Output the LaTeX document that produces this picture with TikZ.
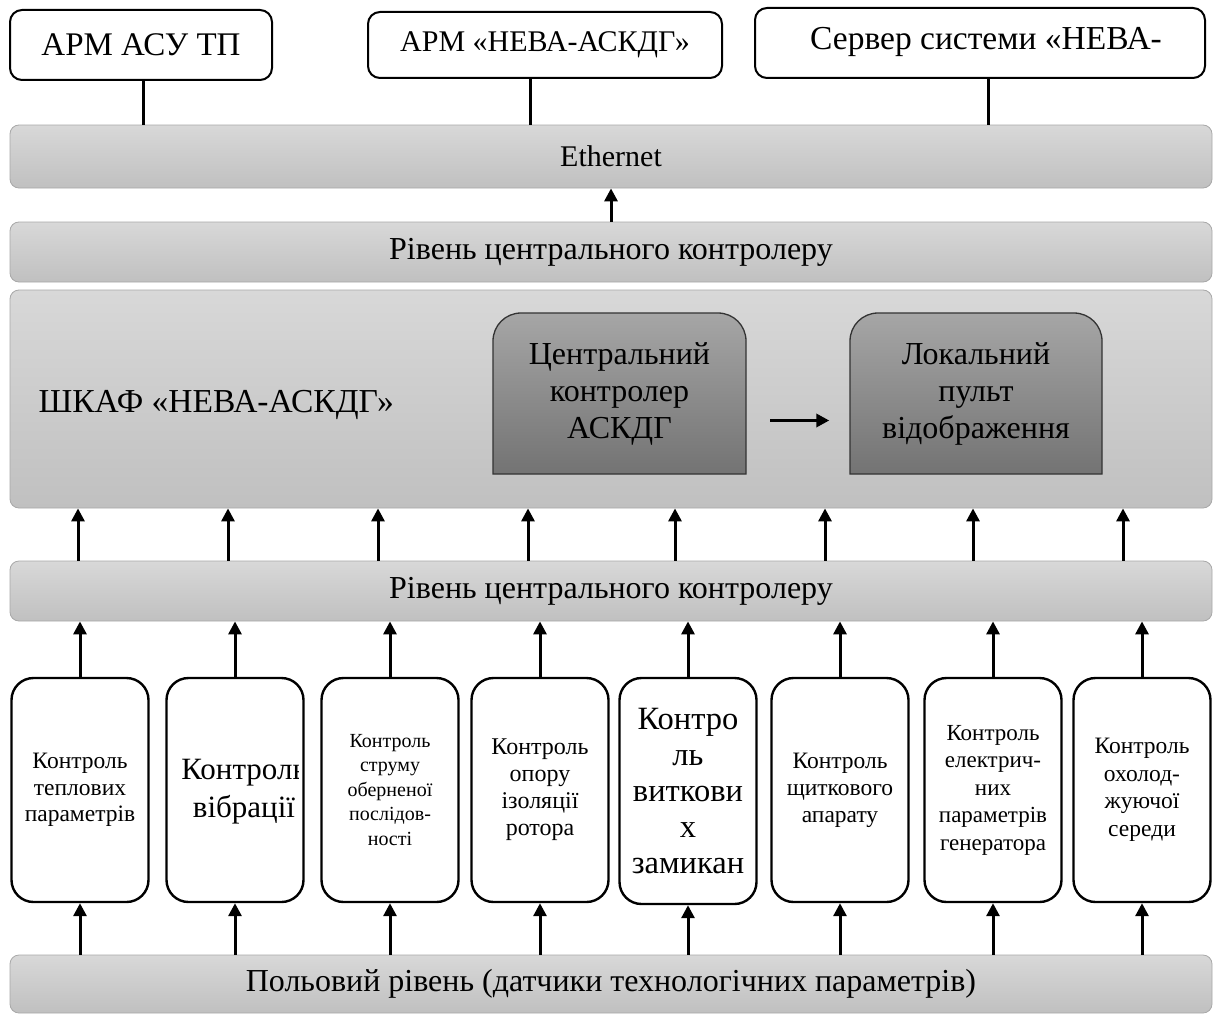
\documentclass[tikz,border=0pt]{standalone}
\usepackage{fontspec}
\setmainfont{Liberation Serif}
\usetikzlibrary{arrows.meta,calc}
\definecolor{bartop}{HTML}{D8D8D8}
\definecolor{barbot}{HTML}{C0C0C0}
\definecolor{barline}{HTML}{A8A8A8}
\definecolor{darktop}{HTML}{A6A6A6}
\definecolor{darkbot}{HTML}{737373}
\definecolor{darkline}{HTML}{333333}
\newcommand{\fsz}[2]{\fontsize{#1pt}{#2pt}\selectfont}
\tikzset{
 bar/.style={rectangle, rounded corners=9pt, draw=barline, line width=0.8pt,
   top color=bartop, bottom color=barbot, minimum width=1202pt, inner sep=0pt},
 topbox/.style={rectangle, rounded corners=12pt, draw, line width=2pt, fill=white, inner sep=0pt},
 ctlbox/.style={rectangle, rounded corners=22pt, draw, line width=2.4pt, fill=white,
   minimum width=137pt, minimum height=224pt, inner sep=0pt, align=center},
 darkbox/.style={rectangle, minimum width=253pt, minimum height=161pt, inner sep=0pt, align=center,
   font=\fsz{32}{37}},
 darkshape/.style={top color=darktop, bottom color=darkbot, draw=darkline, line width=1.3pt},
 arr/.style={line width=3pt, -{Triangle[length=13pt,width=13pt]}},
 link/.style={line width=3pt},
}
\begin{document}
\begin{tikzpicture}[x=1pt,y=-1pt]
\useasboundingbox (0,0) rectangle (1214,1014);
\fill[white] (0,0) rectangle (1214,1014);

% top boxes
\node[topbox, minimum width=262pt, minimum height=70pt, font=\fsz{33}{38}] (arm1) at (141,45) {АРМ АСУ ТП};
\node[topbox, minimum width=354pt, minimum height=66pt, font=\fsz{30}{35}] (arm2) at (545,45) {АРМ «НЕВА-АСКДГ»};
\node[topbox, minimum width=450pt, minimum height=70pt] (srv) at (980,43) {};
\node[font=\fsz{33.5}{38}] (srvt) at (986,42) {Сервер системи «НЕВА-};

% bars
\node[bar, minimum height=63pt, font=\fsz{30}{34}] (eth) at (611,156.5) {Ethernet};
\node[bar, minimum height=60pt, font=\fsz{32}{36}] (lvl1) at (611,252) {Рівень центрального контролеру};
\node[bar, minimum height=218pt] (shkaf) at (611,399) {};
\node[bar, minimum height=60pt, font=\fsz{32}{36}] (lvl2) at (611,591) {Рівень центрального контролеру};
\node[bar, minimum height=58pt, font=\fsz{32}{36}] (field) at (611,984) {Польовий рівень (датчики технологічних параметрів)};

\node[anchor=west, font=\fsz{33.5}{38}] (shkaft) at (35,405) {ШКАФ «НЕВА-АСКДГ»};

% dark box shapes (top corners rounded)
\path[darkshape] (493,474) -- (493,341) .. controls (493,325.5) and (505.5,313) .. (521,313)
  -- (718,313) .. controls (733.5,313) and (746,325.5) .. (746,341) -- (746,474) -- cycle;
\path[darkshape] (850,474) -- (850,341) .. controls (850,325.5) and (862.5,313) .. (878,313)
  -- (1074,313) .. controls (1089.5,313) and (1102,325.5) .. (1102,341) -- (1102,474) -- cycle;
\node[darkbox] (cc) at (619.5,393.5) {Центральний\\контролер\\АСКДГ};
\node[darkbox] (lp) at (976,393.5) {Локальний\\пульт\\відображення};

% connectors top
\draw[link] ([xshift=2pt]arm1.south) -- ([xshift=2pt]arm1.south |- eth.north);
\draw[link] ([xshift=-15pt]arm2.south) -- ([xshift=-15pt]arm2.south |- eth.north);
\draw[link] ([xshift=8pt]srv.south) -- ([xshift=8pt]srv.south |- eth.north);
\draw[arr] (lvl1.north) -- (eth.south);

% control boxes
\node[ctlbox, font=\fsz{23.5}{26.5}] (b1) at (80,790) {Контроль\\теплових\\параметрів};
\node[ctlbox] (b2) at (235,790) {};
\node[ctlbox, font=\fsz{20}{24.5}] (b3) at (390,790) {Контроль\\струму\\оберненої\\послідов-\\ності};
\node[ctlbox, font=\fsz{24}{27}] (b4) at (540,790) {Контроль\\опору\\ізоляції\\ротора};
\node[ctlbox, font=\fsz{32.5}{36}, minimum height=226pt] (b5) at (688,791) {Контро\\ль\\виткови\\х\\замикан};
\node[ctlbox, font=\fsz{23.5}{27}] (b6) at (840,790) {Контроль\\щиткового\\апарату};
\node[ctlbox, font=\fsz{23}{27.5}] (b7) at (993,790) {Контроль\\електрич-\\них\\параметрів\\генератора};
\node[ctlbox, font=\fsz{23.5}{27.5}] (b8) at (1142,790) {Контроль\\охолод-\\жуючої\\середи};
\begin{scope}
\clip ([xshift=2pt]b2.south west) rectangle ([xshift=-6pt]b2.north east);
\node[align=center, font=\fsz{31}{38}] (b2t) at (244,792) {Контроль\\вібрації};
\end{scope}

% arrows boxes -> lvl2, field -> boxes
\foreach \b in {b1,b2,b3,b4,b5,b6,b7,b8}{
  \draw[arr] (\b.north) -- (\b.north |- lvl2.south);
  \draw[arr] (field.north -| \b.south) -- (\b.south);
}
% arrows lvl2 -> shkaf
\foreach \x in {78,228,378,528,675,825,973,1123}{
  \draw[arr] (lvl2.north -| \x,0) -- (shkaf.south -| \x,0);
}
% arrow cc -> lp
\draw[arr, line width=3.5pt, shorten <=24pt, shorten >=20pt] ([yshift=-27pt]cc.east) -- ([yshift=-27pt]lp.west);
\end{tikzpicture}
\end{document}
